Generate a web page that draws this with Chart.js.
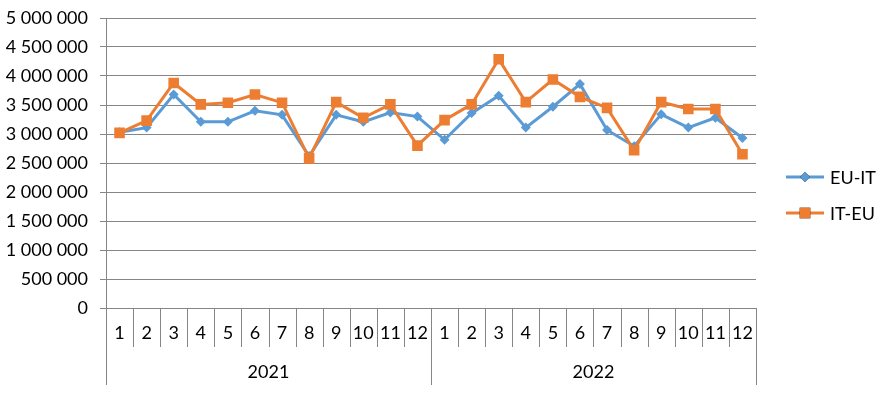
<!DOCTYPE html>
<html lang="en">
<head>
    <meta charset="UTF-8">
    <title>EU-IT / IT-EU</title>
    <style>
        body {
            margin: 0;
            background-color: #ffffff;
            font-family: Lato, sans-serif;
        }
        #wrap {
            width: 884px;
            height: 394px;
        }
    </style>
</head>
<body>

<div id="wrap">
    <canvas id="tradeChart" width="884" height="394"></canvas>
</div>

<script src="https://cdn.jsdelivr.net/npm/chart.js"></script>
<script>
    // Data
    const years = ['2021', '2022'];
    const months = ['1', '2', '3', '4', '5', '6', '7', '8', '9', '10', '11', '12'];
    const euIt = [3030000, 3110000, 3680000, 3210000, 3210000, 3400000, 3330000, 2620000, 3330000, 3210000, 3370000, 3300000,
                  2900000, 3360000, 3660000, 3110000, 3470000, 3860000, 3070000, 2790000, 3340000, 3110000, 3280000, 2930000];
    const itEu = [3020000, 3230000, 3880000, 3510000, 3540000, 3680000, 3540000, 2580000, 3550000, 3280000, 3510000, 2800000,
                  3240000, 3510000, 4290000, 3550000, 3940000, 3640000, 3450000, 2720000, 3550000, 3430000, 3430000, 2650000];

    const blue = '#5B9BD5';
    const orange = '#ED7D31';
    const gridColor = '#868686';
    const fontFamily = 'Lato, sans-serif';
    const fontSize = 18;

    // 24 categories: months repeated for each year
    const labels = [];
    years.forEach(y => months.forEach(m => labels.push(m)));

    function fmt(v) {
        return String(v).replace(/\B(?=(\d{3})+(?!\d))/g, ' ');
    }

    // two-level category axis + legend, drawn from the scale
    const axisAndLegend = {
        id: 'axisAndLegend',
        afterDraw(chart) {
            const ctx = chart.ctx;
            const xs = chart.scales.x;
            const ca = chart.chartArea;
            const step = xs.getPixelForValue(1) - xs.getPixelForValue(0);
            ctx.save();
            ctx.strokeStyle = gridColor;
            ctx.lineWidth = 1;
            ctx.beginPath();
            // left axis line
            ctx.moveTo(Math.round(ca.left) + 0.5, ca.top);
            ctx.lineTo(Math.round(ca.left) + 0.5, ca.bottom);
            for (let i = 0; i <= labels.length; i++) {
                const x = Math.round(xs.getPixelForValue(0) - step / 2 + i * step) + 0.5;
                const len = (i % months.length === 0) ? 77 : 39;
                ctx.moveTo(x, ca.bottom);
                ctx.lineTo(x, ca.bottom + len);
            }
            ctx.stroke();

            ctx.fillStyle = '#000';
            ctx.font = fontSize + 'px ' + fontFamily;
            ctx.textAlign = 'center';
            ctx.textBaseline = 'middle';
            labels.forEach((l, i) => {
                ctx.fillText(l, xs.getPixelForValue(i), ca.bottom + 25);
            });
            years.forEach((y, k) => {
                const a = xs.getPixelForValue(k * months.length);
                const b = xs.getPixelForValue((k + 1) * months.length - 1);
                ctx.fillText(y, (a + b) / 2, ca.bottom + 64);
            });

            // legend
            const items = [
                { text: 'EU-IT', color: blue, style: 'rectRot', r: 5 },
                { text: 'IT-EU', color: orange, style: 'rect', r: 7.5 }
            ];
            const lx = ca.right + 30;
            items.forEach((it, k) => {
                const ly = 177 + k * 36;
                ctx.strokeStyle = it.color;
                ctx.lineWidth = 3;
                ctx.beginPath();
                ctx.moveTo(lx, ly);
                ctx.lineTo(lx + 38, ly);
                ctx.stroke();
                Chart.helpers.drawPoint(ctx, { pointStyle: it.style, radius: it.r, borderWidth: 0 }, lx + 19, ly);
                ctx.fillStyle = it.color;
                ctx.fill();
                ctx.fillStyle = '#000';
                ctx.textAlign = 'left';
                ctx.fillText(it.text, lx + 44, ly + 1);
            });
            ctx.restore();
        }
    };

    const ctx = document.getElementById('tradeChart').getContext('2d');
    const tradeChart = new Chart(ctx, {
        type: 'line',
        data: {
            labels: labels,
            datasets: [{
                label: 'EU-IT',
                data: euIt,
                borderColor: blue,
                backgroundColor: blue,
                borderWidth: 3,
                pointStyle: 'rectRot',
                pointRadius: 5,
                pointBorderWidth: 0,
                tension: 0,
                order: 2
            }, {
                label: 'IT-EU',
                data: itEu,
                borderColor: orange,
                backgroundColor: orange,
                borderWidth: 3,
                pointStyle: 'rect',
                pointRadius: 7.5,
                pointBorderWidth: 0,
                tension: 0,
                order: 1
            }]
        },
        options: {
            responsive: false,
            animation: false,
            layout: {
                padding: { left: 0, right: 128, top: 18, bottom: 86 }
            },
            plugins: {
                legend: { display: false },
                tooltip: { enabled: false }
            },
            scales: {
                x: {
                    type: 'category',
                    offset: true,
                    afterFit(scale) { scale.height = 0; },
                    grid: { display: false },
                    border: { display: false },
                    ticks: { display: false }
                },
                y: {
                    min: 0,
                    max: 5000000,
                    afterFit(scale) {
                        scale.width = 106;
                        scale.paddingTop = 0;
                        scale.paddingBottom = 0;
                    },
                    border: { display: false },
                    grid: {
                        color: gridColor,
                        lineWidth: 1,
                        tickLength: 6
                    },
                    ticks: {
                        stepSize: 500000,
                        padding: 12,
                        color: '#000',
                        font: { family: fontFamily, size: fontSize },
                        callback: v => fmt(v)
                    }
                }
            }
        },
        plugins: [axisAndLegend]
    });
</script>
</body>
</html>
